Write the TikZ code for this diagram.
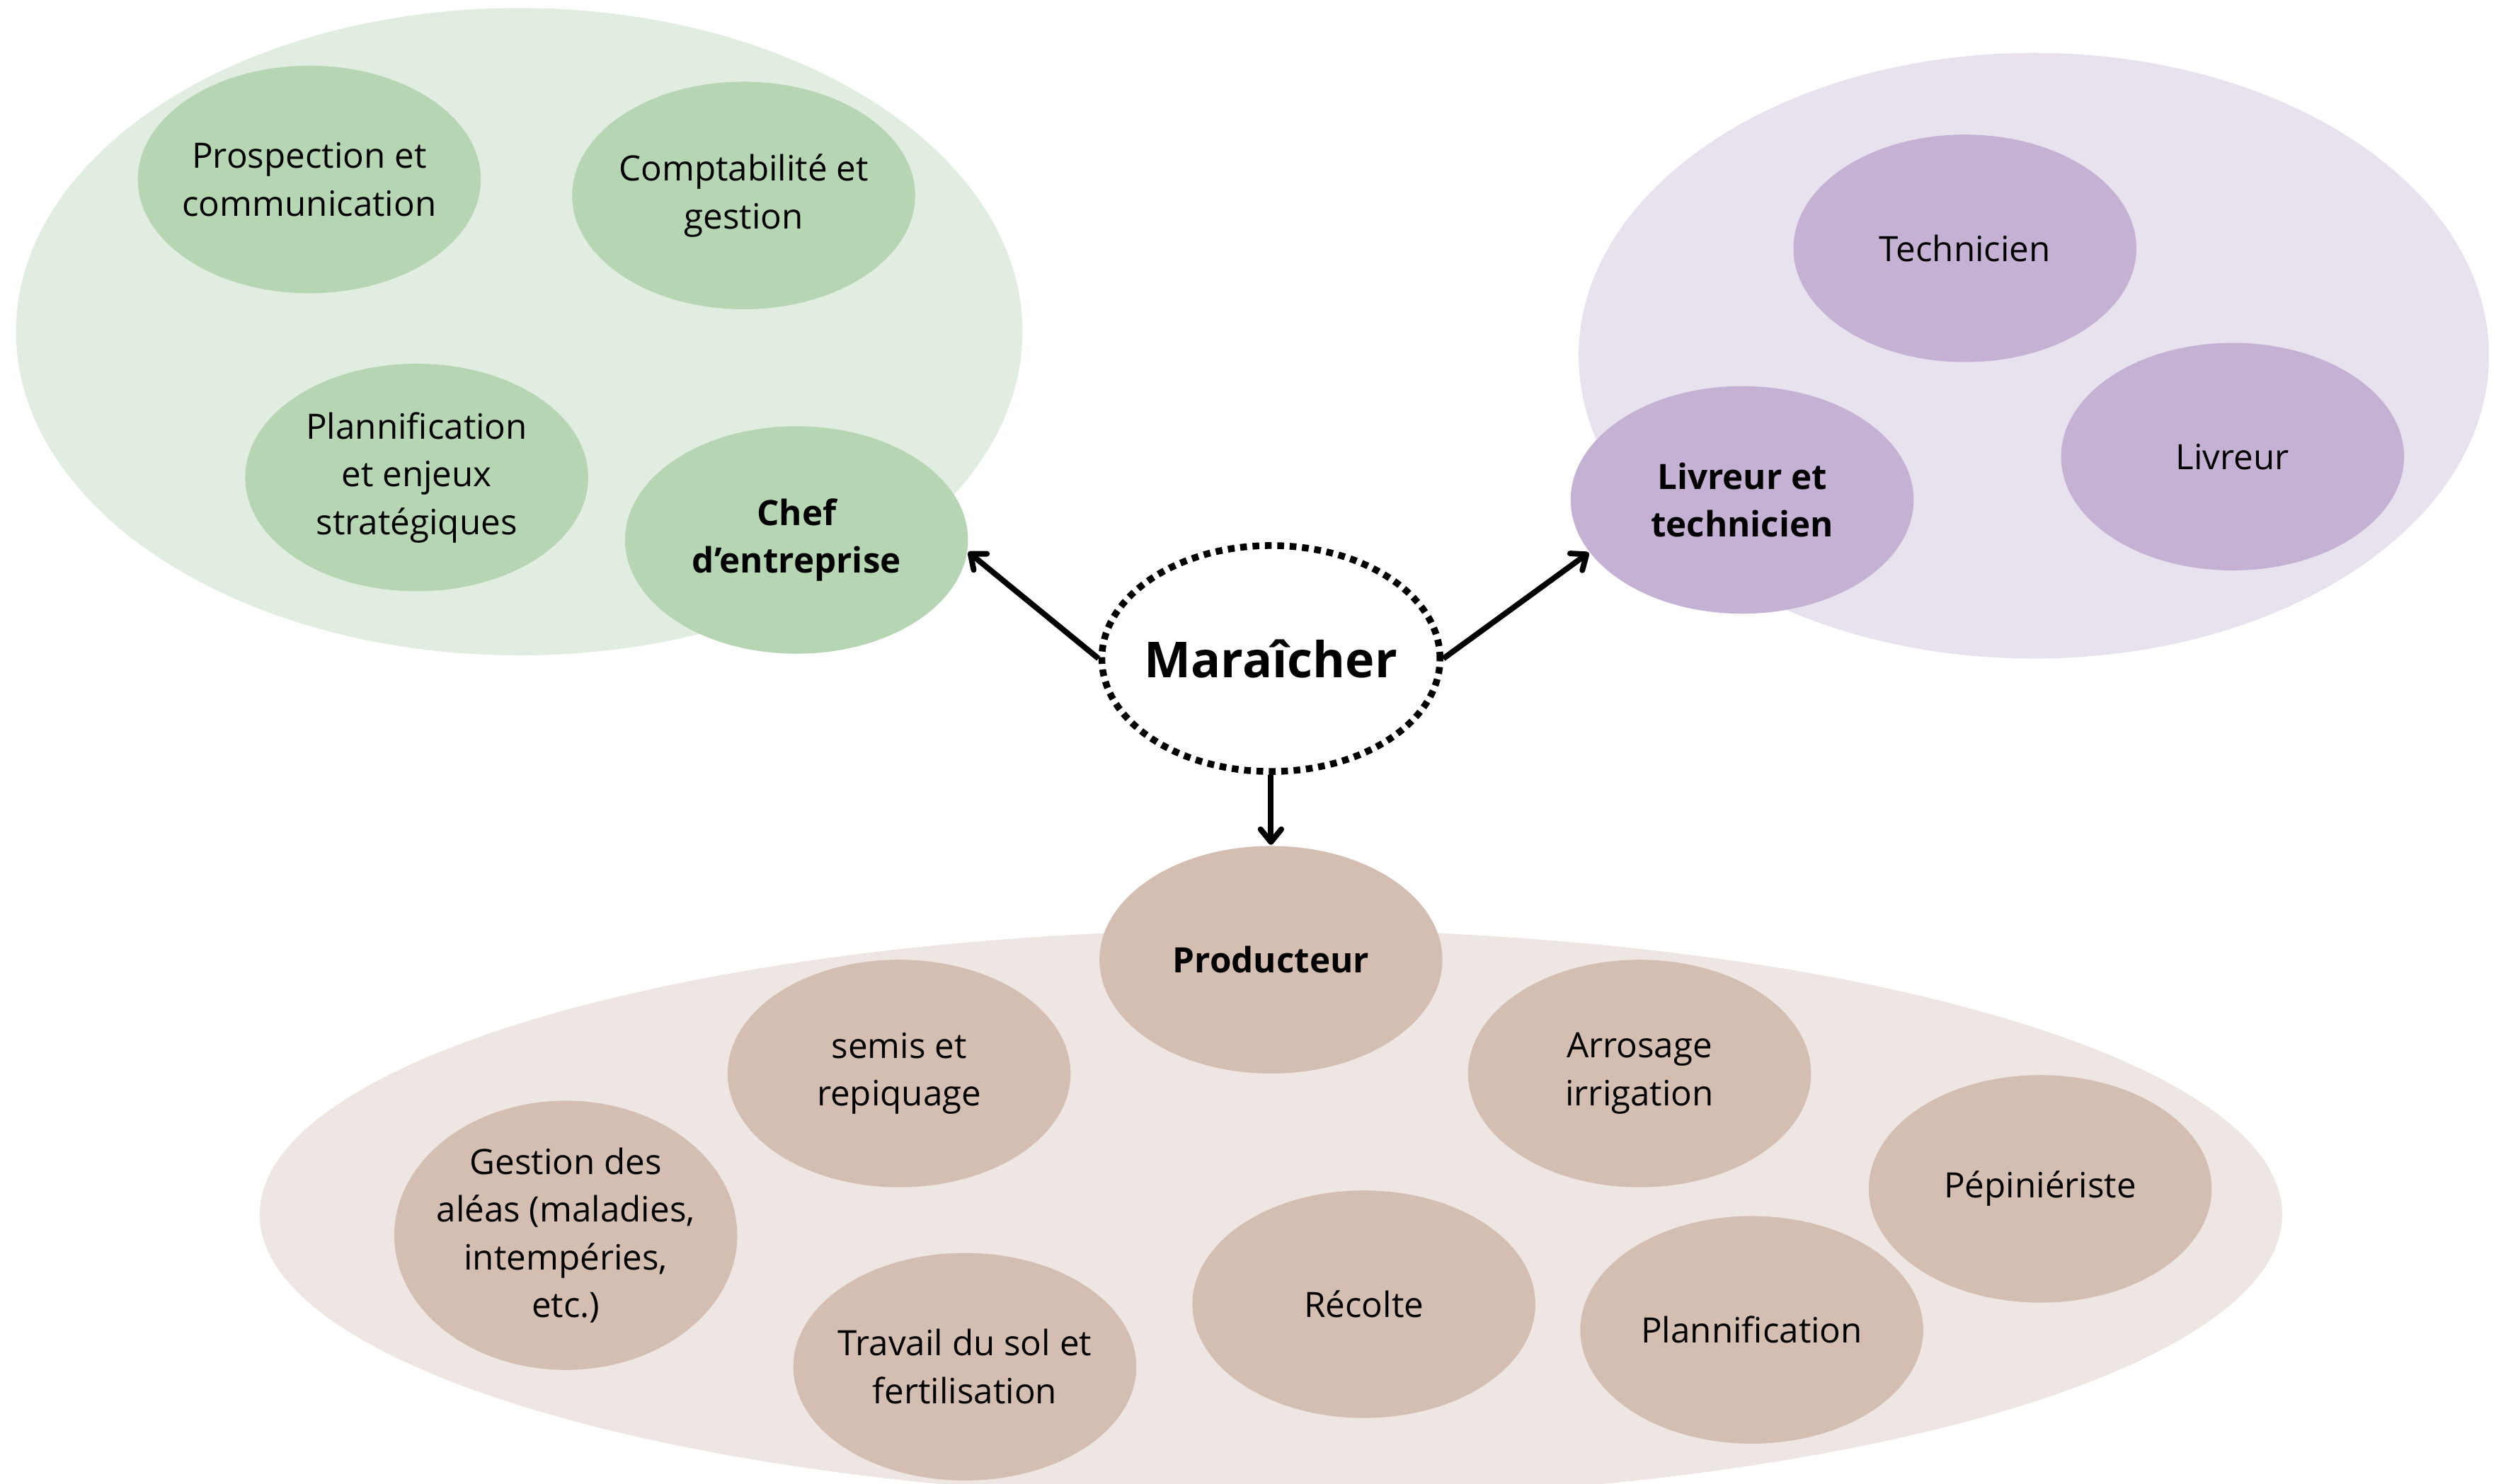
\documentclass[tikz,border=0pt]{standalone}
\usepackage{fontspec}
\setmainfont{Open Sans}
\usetikzlibrary{shapes.geometric,arrows.meta}
\definecolor{vertfond}{HTML}{E2EDE1}
\definecolor{vertbulle}{HTML}{B5D5B3}
\definecolor{violetfond}{HTML}{E8E2EF}
\definecolor{violetbulle}{HTML}{C5B1D4}
\definecolor{brunfond}{HTML}{EEE6E3}
\definecolor{brunbulle}{HTML}{D4BEB1}
\begin{document}
\begin{tikzpicture}[
  bulle/.style={ellipse, inner xsep=-2.5pt, inner ysep=0pt, minimum width=2.14cm, minimum height=1.42cm,
    align=center, font=\fontsize{6.2}{8.5}\selectfont},
  titre/.style={font=\fontsize{6.2}{8.5}\selectfont\bfseries},
  fleche/.style={line width=1pt, -{Straight Barb[length=0.8mm,width=1.3mm,round]}}]
\useasboundingbox (0,0) rectangle (15.68,-9.26);
\clip (0,0) rectangle (15.68,-9.26);
\fill[vertfond] (3.24,-2.07) ellipse [x radius=3.14cm, y radius=2.02cm];
\fill[violetfond] (12.69,-2.22) ellipse [x radius=2.84cm, y radius=1.89cm];
\fill[brunfond] (7.93,-7.58) ellipse [x radius=6.31cm, y radius=1.78cm];
% chef d'entreprise
\node[bulle, fill=vertbulle] (prosp) at (1.93,-1.12) {Prospection et\\communication};
\node[bulle, fill=vertbulle] (compta) at (4.64,-1.22) {Comptabilité et\\gestion};
\node[bulle, fill=vertbulle] (planstrat) at (2.60,-2.98) {Plannification\\et enjeux\\stratégiques};
\node[bulle, fill=vertbulle, titre] (chef) at (4.97,-3.37) {Chef\\d’entreprise};
% livreur et technicien
\node[bulle, fill=violetbulle] (techn) at (12.26,-1.55) {Technicien};
\node[bulle, fill=violetbulle] (livr) at (13.93,-2.85) {Livreur};
\node[bulle, fill=violetbulle, titre] (livtech) at (10.87,-3.12) {Livreur et\\technicien};
% producteur
\node[bulle, fill=brunbulle, titre] (prod) at (7.93,-5.99) {Producteur};
\node[bulle, fill=brunbulle] (semis) at (5.61,-6.70) {semis et\\repiquage};
\node[bulle, fill=brunbulle] (arros) at (10.23,-6.70) {Arrosage\\irrigation};
\node[bulle, fill=brunbulle, inner xsep=-4pt, minimum height=1.68cm] (aleas) at (3.53,-7.71) {Gestion des\\aléas (maladies,\\intempéries,\\etc.)};
\node[bulle, fill=brunbulle] (pepin) at (12.73,-7.42) {Pépiniériste};
\node[bulle, fill=brunbulle] (recolte) at (8.51,-8.14) {Récolte};
\node[bulle, fill=brunbulle] (planif) at (10.93,-8.30) {Plannification};
\node[bulle, fill=brunbulle, inner xsep=-4pt] (travail) at (6.02,-8.53) {Travail du sol et\\fertilisation};
% centre
\node[bulle, fill=white, inner xsep=-5pt, minimum width=2.11cm, minimum height=1.41cm, line width=1.2pt,
  dash pattern=on 1.2pt off 1pt, draw, font=\fontsize{8.8}{11}\selectfont\bfseries] (mar) at (7.93,-4.11) {Maraîcher};
\draw[fleche] (mar.west) -- (chef.-4);
\draw[fleche] (mar.east) -- (livtech.199);
\draw[fleche] (mar.south) -- (prod.north);
\end{tikzpicture}
\end{document}
